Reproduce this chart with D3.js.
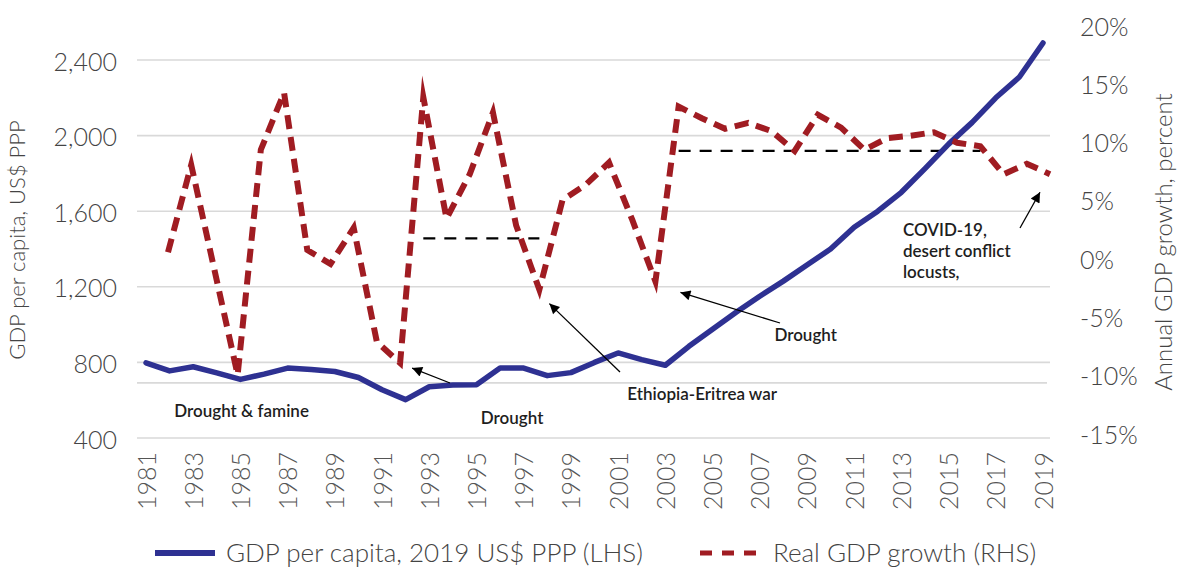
<!DOCTYPE html>
<html>
<head>
<meta charset="utf-8">
<script src="https://cdn.jsdelivr.net/npm/d3@7"></script>
<style>
  html, body { margin: 0; padding: 0; background: #fff; }
  svg { display: block; font-family: Lato, "Open Sans", sans-serif; }
</style>
</head>
<body>
<svg id="chart" width="1180" height="570"></svg>
<script>
// GDP per capita, 2019 US$ PPP (left axis)
const gdpYears = [1981, 1982, 1983, 1984, 1985, 1986, 1987, 1988, 1989, 1990,
                  1991, 1992, 1993, 1994, 1995, 1996, 1997, 1998, 1999, 2000,
                  2001, 2002, 2003, 2004, 2005, 2006, 2007, 2008, 2009, 2010,
                  2011, 2012, 2013, 2014, 2015, 2016, 2017, 2018, 2019];
const gdpPerCapita = [798, 755, 777, 745, 710, 738, 770, 762, 752, 720,
                      655, 603, 671, 680, 682, 770, 770, 730, 746, 800,
                      850, 815, 785, 885, 975, 1065, 1150, 1230, 1315, 1400,
                      1515, 1600, 1700, 1825, 1955, 2070, 2200, 2310, 2490];

// Real GDP growth, percent (right axis)
const growthYears = [1982, 1983, 1984, 1985, 1986, 1987, 1988, 1989, 1990, 1991,
                     1992, 1993, 1994, 1995, 1996, 1997, 1998, 1999, 2000, 2001,
                     2002, 2003, 2004, 2005, 2006, 2007, 2008, 2009, 2010, 2011,
                     2012, 2013, 2014, 2015, 2016, 2017, 2018, 2019, 2020];
const growthRate = [0.5, 8.0, -1.0, -10.0, 9.3, 14.2, 0.7, -0.5, 2.6, -7.2,
                    -9.0, 13.8, 3.4, 7.2, 12.5, 2.8, -2.7, 5.0, 6.3, 8.2,
                    3.3, -2.0, 13.0, 12.0, 11.1, 11.6, 10.9, 9.2, 12.3, 11.2,
                    9.3, 10.3, 10.5, 10.8, 9.9, 9.6, 7.2, 8.1, 7.2];

// Period averages of growth (black dashed)
const avgStart = [1993, 2004];
const avgEnd   = [1998, 2017];
const avgValue = [1.7, 9.2];

// Axis ticks
const gdpTicks = [400, 800, 1200, 1600, 2000, 2400];
const growthTicks = [-15, -10, -5, 0, 5, 10, 15, 20];
const yearLabels = [1981, 1983, 1985, 1987, 1989, 1991, 1993, 1995, 1997, 1999,
                    2001, 2003, 2005, 2007, 2009, 2011, 2013, 2015, 2017, 2019];
const growthFloor = -10.7;   // lower rule of the growth panel

// Event notes: anchored to a growth observation
const notes = [
  { lines: ["Drought & famine"], year: 1985, tx: 4, ty: 411, anchor: "middle" },
  { lines: ["Drought"], year: 1992, tx: 112, ty: 418, anchor: "middle",
    tip: [12, 5], tail: [450, 383] },
  { lines: ["Ethiopia-Eritrea war"], year: 1998, tx: 88, ty: 394, anchor: "start",
    tip: [10, 14], tail: [620, 372] },
  { lines: ["Drought"], year: 2003, tx: 119, ty: 335, anchor: "start",
    tip: [25, 11], tail: [780, 323] },
  { lines: ["COVID-19,", "desert conflict", "locusts,"], year: 2020, tx: -147, ty: 230,
    anchor: "start", tip: [-10, 18], tail: [1020, 228] }
];

const blue = "#2E3192";
const red = "#A01C22";
const svg = d3.select("#chart");

const x  = d3.scaleLinear().domain([1981, 2019]).range([146, 1043]);
const xg = d3.scaleLinear().domain([1982, 2020]).range([168, 1050]);
const yL = d3.scaleLinear().domain([400, 2400]).range([438, 60]);
const yR = d3.scaleLinear().domain([-15, 20]).range([433, 25]);

// arrowhead
svg.append("defs").append("marker")
  .attr("id", "head")
  .attr("viewBox", "0 0 10 10")
  .attr("refX", 10).attr("refY", 5)
  .attr("markerWidth", 14).attr("markerHeight", 10)
  .attr("markerUnits", "userSpaceOnUse")
  .attr("orient", "auto")
  .append("path").attr("d", "M0,0L10,5L0,10z").attr("fill", "#000");

// gridlines
const grid = svg.append("g");
grid.selectAll("line.g").data(gdpTicks).join("line")
  .attr("class", "g")
  .attr("x1", 137).attr("x2", 1050)
  .attr("y1", d => yL(d)).attr("y2", d => yL(d))
  .attr("stroke", "#d9d9d9").attr("stroke-width", 1.6);
grid.append("line")
  .attr("x1", 137).attr("x2", 1047)
  .attr("y1", yR(growthFloor)).attr("y2", yR(growthFloor))
  .attr("stroke", "#d9d9d9").attr("stroke-width", 1.6);

// left axis
const gL = svg.append("g").attr("transform", "translate(117,0)")
  .call(d3.axisLeft(yL).tickValues(gdpTicks).tickFormat(d3.format(",")).tickSize(0).tickPadding(0));
gL.select(".domain").remove();
gL.attr("font-family", null).attr("font-size", null);
gL.selectAll("text").attr("font-size", 25).attr("font-weight", 300).attr("fill", "#444").attr("dy", "0.4em");

// right axis
const gR = svg.append("g").attr("transform", "translate(1080,0)")
  .call(d3.axisRight(yR).tickValues(growthTicks).tickFormat(d => d + "%").tickSize(0).tickPadding(0));
gR.select(".domain").remove();
gR.attr("font-family", null).attr("font-size", null);
gR.selectAll("text").attr("font-size", 25).attr("font-weight", 300).attr("fill", "#444").attr("dy", "0.4em");

// bottom axis, vertical year labels
const gX = svg.append("g").attr("transform", "translate(0,452)")
  .call(d3.axisBottom(x).tickValues(yearLabels).tickFormat(d3.format("d")).tickSize(0));
gX.select(".domain").remove();
gX.attr("font-family", null).attr("font-size", null);
gX.selectAll("text")
  .attr("transform", "rotate(-90)")
  .attr("text-anchor", "end")
  .attr("x", 0).attr("y", 0).attr("dy", "0.36em")
  .attr("font-size", 25).attr("font-weight", 300).attr("fill", "#555");

// axis titles
svg.append("text")
  .attr("transform", "translate(25,240) rotate(-90)")
  .attr("text-anchor", "middle")
  .attr("font-size", 22).attr("font-weight", 300).attr("fill", "#444")
  .text("GDP per capita, US$ PPP");
svg.append("text")
  .attr("transform", "translate(1172,242) rotate(-90)")
  .attr("text-anchor", "middle")
  .attr("font-size", 24).attr("font-weight", 300).attr("fill", "#444")
  .text("Annual GDP growth, percent");

// period averages
svg.append("g").selectAll("line").data(avgValue).join("line")
  .attr("x1", (d, i) => xg(avgStart[i])).attr("x2", (d, i) => xg(avgEnd[i]))
  .attr("y1", d => yR(d)).attr("y2", d => yR(d))
  .attr("stroke", "#000").attr("stroke-width", 2.2).attr("stroke-dasharray", "12,9");

// GDP per capita line
svg.append("path")
  .datum(gdpPerCapita)
  .attr("d", d3.line().x((d, i) => x(gdpYears[i])).y(d => yL(d)))
  .attr("fill", "none").attr("stroke", blue).attr("stroke-width", 5.5)
  .attr("stroke-linejoin", "round").attr("stroke-linecap", "round");

// growth line
svg.append("path")
  .datum(growthRate)
  .attr("d", d3.line().x((d, i) => xg(growthYears[i])).y(d => yR(d)))
  .attr("fill", "none").attr("stroke", red).attr("stroke-width", 6)
  .attr("stroke-dasharray", "14,8")
  .attr("stroke-linejoin", "miter").attr("stroke-miterlimit", 14);

// event notes
const noteG = svg.append("g");
notes.forEach(n => {
  const i = growthYears.indexOf(n.year);
  const px = xg(n.year), py = yR(growthRate[i]);
  if (n.tip) {
    noteG.append("line")
      .attr("x1", n.tail[0]).attr("y1", n.tail[1])
      .attr("x2", px + n.tip[0]).attr("y2", py + n.tip[1])
      .attr("stroke", "#000").attr("stroke-width", 1.3)
      .attr("marker-end", "url(#head)");
  }
  const t = noteG.append("text")
    .attr("text-anchor", n.anchor)
    .attr("font-size", 17).attr("font-weight", 600).attr("fill", "#1e1e1e");
  n.lines.forEach((s, k) => {
    t.append("tspan").attr("x", px + n.tx).attr("y", n.ty + k * 21).attr("dy", "0.35em").text(s);
  });
});

// legend
const lg = svg.append("g");
lg.append("line").attr("x1", 155).attr("x2", 215).attr("y1", 553).attr("y2", 553)
  .attr("stroke", blue).attr("stroke-width", 6);
lg.append("text").attr("x", 226).attr("y", 553).attr("dy", "0.35em")
  .attr("font-size", 26).attr("font-weight", 300).attr("fill", "#444")
  .text("GDP per capita, 2019 US$ PPP (LHS)");
lg.append("line").attr("x1", 700).attr("x2", 760).attr("y1", 553).attr("y2", 553)
  .attr("stroke", red).attr("stroke-width", 5).attr("stroke-dasharray", "12,10");
lg.append("text").attr("x", 773).attr("y", 553).attr("dy", "0.35em")
  .attr("font-size", 26).attr("font-weight", 300).attr("fill", "#444")
  .text("Real GDP growth (RHS)");
</script>
</body>
</html>
